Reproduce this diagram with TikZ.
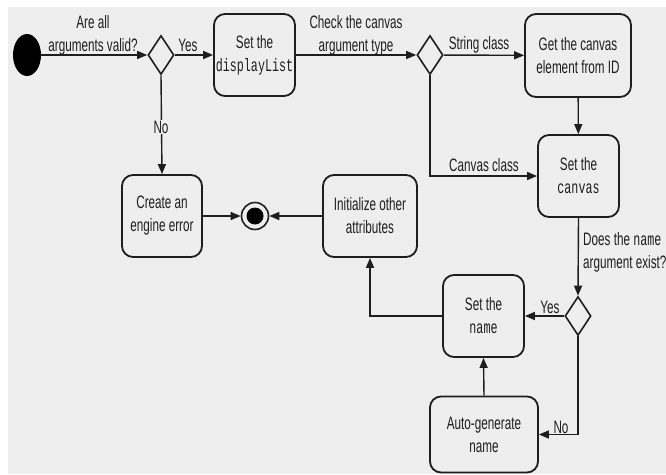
\documentclass[tikz,border=0pt]{standalone}
\usepackage{fontspec}
\setmainfont{Liberation Sans}[FakeStretch=0.65]
\setmonofont{Liberation Mono}[FakeStretch=0.65]
\usetikzlibrary{shapes.geometric,arrows.meta,positioning}
\definecolor{bg}{RGB}{238,238,238}
\definecolor{ink}{RGB}{30,30,30}
\begin{document}
\begin{tikzpicture}[x=1pt,y=-1pt,
  every node/.style={font=\fontsize{18}{23}\selectfont, text=ink},
  action/.style={draw=ink, line width=1.8pt, fill=bg, rounded corners=11pt,
    align=center, inner sep=0pt},
  choice/.style={diamond, draw=ink, line width=1.6pt, fill=bg, inner sep=0pt,
    minimum width=26pt, minimum height=39pt},
  lbl/.style={inner sep=1pt, align=center},
  flow/.style={draw=ink, line width=1.4pt, -{Triangle[length=10pt,width=8pt]}},
  plain/.style={draw=ink, line width=1.4pt}]
\useasboundingbox (0,0) rectangle (666,474);
\fill[white] (0,0) rectangle (666,474);
\fill[bg] (8,7) rectangle (666,474);

% initial and final states
\node[ellipse, fill=black, minimum width=28pt, minimum height=42pt, inner sep=0pt] (start) at (27,55) {};
\node[circle, draw=ink, line width=1.6pt, fill=bg, minimum size=27pt, inner sep=0pt] (end) at (255,216) {};
\node[circle, fill=black, minimum size=17pt, inner sep=0pt] (endcore) at (end) {};

% decisions
\node[choice] (d1) at (161,55) {};
\node[choice] (d2) at (430,55) {};
\node[choice] (d3) at (578,316) {};

% actions
\node[action, minimum width=81pt, minimum height=82pt] (disp) at (254.5,55) {Set the\\\texttt{displayList}};
\node[action, minimum width=106pt, minimum height=83pt] (getc) at (578,55.5) {Get the canvas\\element from ID};
\node[action, minimum width=81pt, minimum height=82pt] (setc) at (578.5,176) {Set the\\\texttt{canvas}};
\node[action, minimum width=80pt, minimum height=82pt] (err) at (162,216) {Create an\\engine error};
\node[action, minimum width=94pt, minimum height=82pt] (init) at (370,216) {Initialize other\\attributes};
\node[action, minimum width=81pt, minimum height=82pt] (setn) at (483.5,316) {Set the\\\texttt{name}};
\node[action, minimum width=108pt, minimum height=76pt] (auto) at (484,434.5) {Auto-generate\\name};

% connectors
\draw[flow] (start) -- (d1);
\draw[flow] (d1) -- (disp);
\draw[flow] (disp) -- (d2);
\draw[flow] (d2) -- (getc);
\draw[flow] (getc) -- (setc);
\draw[flow] (d2.south) |- (setc.west);
\draw[flow] (d1.south) -- (err.north);
\draw[flow] (err) -- (end);
\draw[flow] (init) -- (end);
\draw[flow] (setc.south) -- (d3.north);
\draw[flow] (d3.west) -- (setn.east);
\draw[flow] (setn.west) -| (init.south);
\draw[flow] (auto.north) -- (setn.south);
\draw[flow] (d3.south) |- (auto.east);

% guard labels
\node[lbl] (qvalid) at (93,35.5) {Are all\\arguments valid?};
\node[lbl] (yes1) at (188,45) {Yes};
\node[lbl, fill=bg] (no1) at (161,127) {No};
\node[lbl] (qtype) at (356,35.5) {Check the canvas\\argument type};
\node[lbl] (strcls) at (479,45) {String class};
\node[lbl] (cvcls) at (484,165) {Canvas class};
\node[lbl, align=left, anchor=west] (qname) at (582,252) {Does the \texttt{name}\\argument exist?};
\node[lbl] (yes2) at (550,307) {Yes};
\node[lbl] (no2) at (561,427) {No};
\end{tikzpicture}
\end{document}
